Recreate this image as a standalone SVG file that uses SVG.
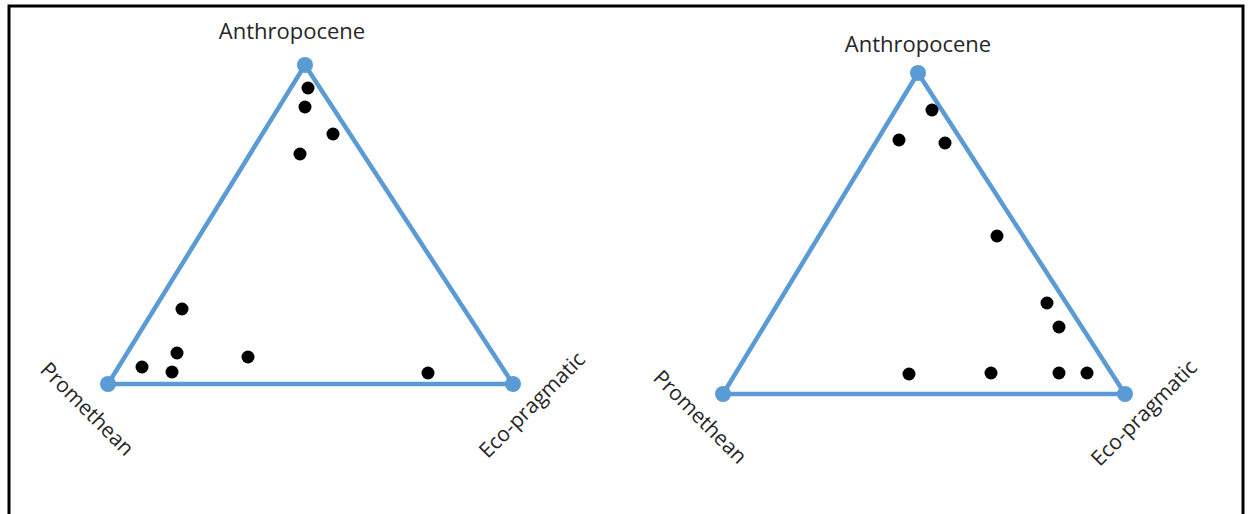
<svg xmlns="http://www.w3.org/2000/svg" width="1250" height="514" viewBox="0 0 1250 514">
  <style>
    .tri { fill: none; stroke: #5B9BD5; stroke-width: 4.5; stroke-linejoin: round; }
    .vx { fill: #5B9BD5; }
    .dot { fill: #000; }
    .lbl { font-family: "Open Sans", "Liberation Sans", sans-serif; font-size: 22px; fill: #262626; text-anchor: middle; }
    .rl { font-size: 21px; }
  </style>
  <rect width="1250" height="514" fill="#fff"/>
  <path d="M9,520 V6 H1243 V520" fill="none" stroke="#000" stroke-width="3"/>

  <g id="left-chart">
    <g id="left-triangle">
      <polygon class="tri" points="305,65 108,384 513,384"/>
    </g>
    <g id="left-anthropocene">
      <circle class="vx" cx="305" cy="65" r="8"/>
      <text class="lbl" x="292" y="39">Anthropocene</text>
    </g>
    <g id="left-promethean">
      <circle class="vx" cx="108" cy="384" r="8"/>
      <text class="lbl rl" transform="translate(82,414) rotate(45)">Promethean</text>
    </g>
    <g id="left-ecopragmatic">
      <circle class="vx" cx="513" cy="384" r="8"/>
      <text class="lbl rl" transform="translate(537,410) rotate(-45)">Eco-pragmatic</text>
    </g>
    <g id="left-points">
      <circle class="dot" cx="308" cy="88" r="6.5"/>
      <circle class="dot" cx="305" cy="107" r="6.5"/>
      <circle class="dot" cx="333" cy="134" r="6.5"/>
      <circle class="dot" cx="300" cy="154" r="6.5"/>
      <circle class="dot" cx="182" cy="309" r="6.5"/>
      <circle class="dot" cx="177" cy="353" r="6.5"/>
      <circle class="dot" cx="142" cy="367" r="6.5"/>
      <circle class="dot" cx="172" cy="372" r="6.5"/>
      <circle class="dot" cx="248" cy="357" r="6.5"/>
      <circle class="dot" cx="428" cy="373" r="6.5"/>
    </g>
  </g>

  <g id="right-chart">
    <g id="right-triangle">
      <polygon class="tri" points="918,73 723,394 1125,394"/>
    </g>
    <g id="right-anthropocene">
      <circle class="vx" cx="918" cy="73" r="8"/>
      <text class="lbl" x="918" y="52">Anthropocene</text>
    </g>
    <g id="right-promethean">
      <circle class="vx" cx="723" cy="394" r="8"/>
      <text class="lbl rl" transform="translate(695,422) rotate(45)">Promethean</text>
    </g>
    <g id="right-ecopragmatic">
      <circle class="vx" cx="1125" cy="394" r="8"/>
      <text class="lbl rl" transform="translate(1149,418) rotate(-45)">Eco-pragmatic</text>
    </g>
    <g id="right-points">
      <circle class="dot" cx="932" cy="110" r="6.5"/>
      <circle class="dot" cx="899" cy="140" r="6.5"/>
      <circle class="dot" cx="945" cy="143" r="6.5"/>
      <circle class="dot" cx="997" cy="236" r="6.5"/>
      <circle class="dot" cx="1047" cy="303" r="6.5"/>
      <circle class="dot" cx="1059" cy="327" r="6.5"/>
      <circle class="dot" cx="909" cy="374" r="6.5"/>
      <circle class="dot" cx="991" cy="373" r="6.5"/>
      <circle class="dot" cx="1059" cy="373" r="6.5"/>
      <circle class="dot" cx="1087" cy="373" r="6.5"/>
    </g>
  </g>
</svg>
